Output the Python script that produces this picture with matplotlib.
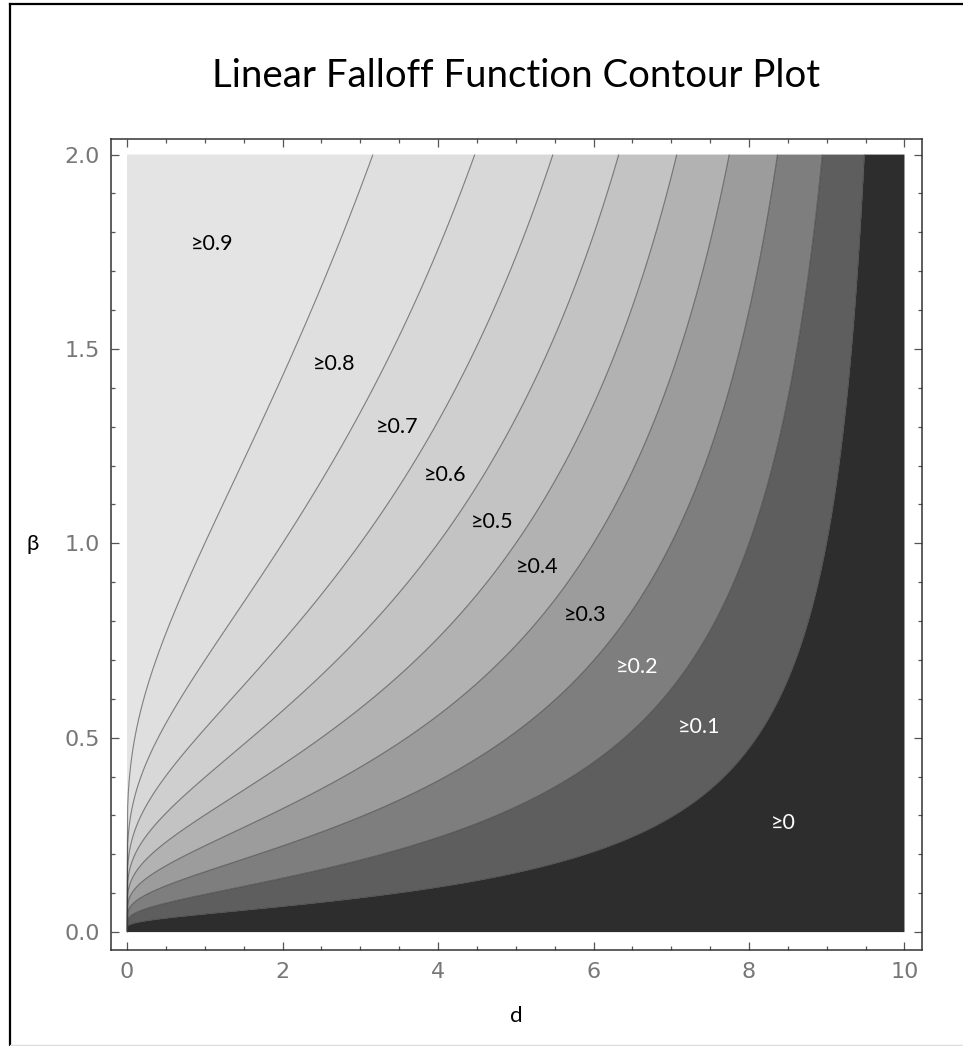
import numpy as np
import matplotlib.pyplot as plt
from matplotlib.lines import Line2D
from matplotlib.ticker import MultipleLocator

# contour levels and band shades (darkest = lowest level)
levels = [0.0, 0.1, 0.2, 0.3, 0.4, 0.5, 0.6, 0.7, 0.8, 0.9, 1.0]
band_colors = ['#2d2d2d', '#5e5e5e', '#7e7e7e', '#9c9c9c', '#b2b2b2',
               '#c3c3c3', '#cfcfcf', '#d8d8d8', '#dfdfdf', '#e4e4e4']

# contour label text and where it sits (d, beta)
label_text = ['≥0', '≥0.1', '≥0.2', '≥0.3', '≥0.4', '≥0.5', '≥0.6', '≥0.7', '≥0.8', '≥0.9']
label_d = [8.44, 7.36, 6.56, 5.89, 5.28, 4.70, 4.09, 3.47, 2.66, 1.09]
label_beta = [0.28, 0.527, 0.681, 0.815, 0.938, 1.054, 1.175, 1.30, 1.46, 1.77]

d_max = 10.0
beta_max = 2.0


def falloff(d, beta):
    return 1.0 - (d / d_max) ** beta


d = np.linspace(0, d_max, 1201)
beta = np.linspace(0, beta_max, 1201)
D, B = np.meshgrid(d, beta)
with np.errstate(divide='ignore', invalid='ignore'):
    F = falloff(D, B)
F = np.clip(np.nan_to_num(F, nan=0.0), 0, 1)

fig = plt.figure(figsize=(9.63, 10.46), dpi=100)
ax = fig.add_axes([0.1153, 0.0918, 0.8421, 0.7753])

ax.contourf(D, B, F, levels=levels, colors=band_colors, antialiased=True)
ax.contour(D, B, F, levels=levels[1:-1], colors='#3a3a3a',
           linewidths=0.8, alpha=0.6)

for txt, x, y in zip(label_text, label_d, label_beta):
    col = 'white' if txt in ('≥0', '≥0.1', '≥0.2') else 'black'
    ax.text(x, y, txt, ha='center', va='center', fontsize=15.5, color=col,
            family=['Lato', 'DejaVu Sans'])

ax.set_xlim(-0.206, 10.225)
ax.set_ylim(-0.046, 2.040)

ax.xaxis.set_major_locator(MultipleLocator(2))
ax.xaxis.set_minor_locator(MultipleLocator(0.5))
ax.yaxis.set_major_locator(MultipleLocator(0.5))
ax.yaxis.set_minor_locator(MultipleLocator(0.1))
ax.xaxis.set_major_formatter(plt.FuncFormatter(lambda v, p: f'{v:.0f}'))
ax.yaxis.set_major_formatter(plt.FuncFormatter(lambda v, p: f'{v:.1f}'))

ax.tick_params(which='both', direction='in', top=True, right=True,
               color='#555555', width=0.9)
ax.tick_params(which='major', length=6, labelsize=16, labelcolor='#777777')
ax.tick_params(which='minor', length=3)
ax.tick_params(axis='x', which='major', pad=9)
ax.tick_params(axis='y', which='major', pad=8)
for sp in ax.spines.values():
    sp.set_color('#333333')
    sp.set_linewidth(1.1)

ax.set_xlabel('d', fontsize=16, family='Lato', color='black')
ax.xaxis.set_label_coords(0.5, -0.081)
ax.xaxis.label.set_va('center')
ax.set_ylabel('β', fontsize=16, family=['Lato', 'DejaVu Sans'],
              color='black', rotation=0)
ax.yaxis.set_label_coords(-0.096, 0.5)
ax.yaxis.label.set_va('center')
ax.yaxis.label.set_ha('center')

fig.text(0.5358, 1 - 76 / 1046, 'Linear Falloff Function Contour Plot',
         ha='center', va='center', fontsize=27.6, family='Lato', color='black')

# outer border of the picture
fig.add_artist(Line2D([10 / 963, 10 / 963], [1 - 4 / 1046, 1 - 1045 / 1046],
                      color='black', linewidth=1.6))
fig.add_artist(Line2D([10 / 963, 1.0], [1 - 4 / 1046, 1 - 4 / 1046],
                      color='black', linewidth=1.6))
fig.add_artist(Line2D([10 / 963, 1.0], [1 - 1045 / 1046, 1 - 1045 / 1046],
                      color='#dddddd', linewidth=1.0))

fig.savefig('out.png', dpi=100)
